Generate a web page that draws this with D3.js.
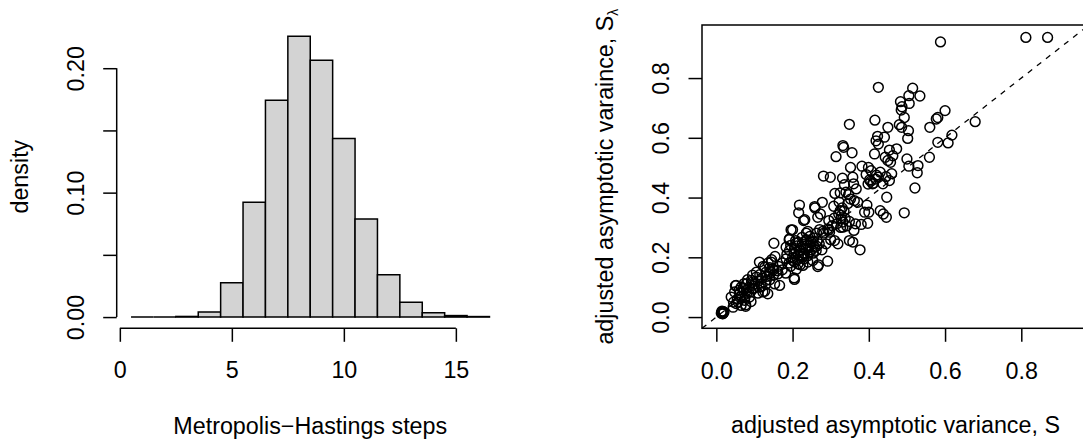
<!DOCTYPE html>
<html lang="en">
  <head>
    <meta charset="utf-8">
    <title>MH steps and adjusted asymptotic variance</title>
    <script type="text/javascript" src="https://d3js.org/d3.v7.min.js"></script>
    <style>
      body { margin: 0; background: #fff; }
      svg { display: block; }
      text { font-family: 'Liberation Sans', Arial, Helvetica, sans-serif; font-size: 23.3px; fill: #000; }
    </style>
  </head>
  <body>
    <div id="viz"></div>
    <script type="text/javascript">

    // histogram: unit bins from 0.5 to 16.5
    var histBreaks = [0.5, 1.5, 2.5, 3.5, 4.5, 5.5, 6.5, 7.5, 8.5, 9.5, 10.5, 11.5, 12.5, 13.5, 14.5, 15.5, 16.5];
    var histDensity = [0, 0, 0.0005, 0.004, 0.0275, 0.0922, 0.1743, 0.2257, 0.2064, 0.1436, 0.0789, 0.034, 0.012, 0.0035, 0.0012, 0.0004];
    var histXTicks = [0, 5, 10, 15];
    var histYTicks = [0, 0.05, 0.10, 0.15, 0.20];
    var histYLabels = ["0.00", "", "0.10", "", "0.20"];

    // scatter: adjusted asymptotic variance S vs S_lambda
    var adjS = [
      0.812, 0.869, 0.588, 0.425, 0.515, 0.505, 0.534, 0.483, 0.487, 0.485,
      0.506, 0.493, 0.416, 0.600, 0.581, 0.577, 0.560, 0.679, 0.349, 0.450,
      0.480, 0.486, 0.618, 0.608, 0.581, 0.423, 0.419, 0.441, 0.425, 0.504,
      0.502, 0.332, 0.334, 0.356, 0.314, 0.415, 0.443, 0.454, 0.473, 0.463,
      0.450, 0.457, 0.500, 0.529, 0.527, 0.505, 0.559, 0.382, 0.399, 0.406,
      0.393, 0.402, 0.410, 0.425, 0.437, 0.454, 0.447, 0.281, 0.299, 0.331,
      0.352, 0.358, 0.360, 0.336, 0.367, 0.521, 0.311, 0.325, 0.340, 0.347,
      0.362, 0.371, 0.395, 0.389, 0.400, 0.430, 0.438, 0.446, 0.493, 0.218,
      0.216, 0.229, 0.258, 0.278, 0.273, 0.266, 0.308, 0.325, 0.327, 0.316,
      0.332, 0.304, 0.321, 0.295, 0.292, 0.297, 0.349, 0.361, 0.365, 0.380,
      0.397, 0.196, 0.240, 0.271, 0.279, 0.192, 0.208, 0.225, 0.236, 0.249,
      0.258, 0.192, 0.205, 0.220, 0.231, 0.244, 0.262, 0.151, 0.183, 0.211,
      0.288, 0.310, 0.319, 0.349, 0.358, 0.377, 0.266, 0.292, 0.183, 0.201,
      0.214, 0.227, 0.240, 0.253, 0.205, 0.113, 0.127, 0.144, 0.148, 0.162,
      0.140, 0.131, 0.153, 0.166, 0.092, 0.105, 0.079, 0.096, 0.113, 0.122,
      0.135, 0.052, 0.065, 0.079, 0.048, 0.061, 0.074, 0.087, 0.039, 0.052,
      0.065, 0.077, 0.016, 0.017, 0.013, 0.019, 0.015, 0.044, 0.057, 0.050,
      0.073, 0.082, 0.093, 0.062, 0.077, 0.091, 0.109, 0.100, 0.118, 0.127,
      0.132, 0.114, 0.123, 0.136, 0.145, 0.154, 0.163, 0.141, 0.150, 0.173,
      0.182, 0.191, 0.173, 0.204, 0.200, 0.191, 0.209, 0.204, 0.218, 0.227,
      0.236, 0.245, 0.254, 0.241, 0.227, 0.213, 0.200, 0.254, 0.263, 0.268,
      0.277, 0.263, 0.236, 0.227, 0.232, 0.259, 0.282, 0.295, 0.300, 0.309,
      0.014, 0.018, 0.016, 0.020, 0.330, 0.335, 0.328, 0.338, 0.332, 0.342,
      0.326, 0.345, 0.352, 0.322, 0.405, 0.412, 0.418, 0.398, 0.420, 0.430,
      0.445, 0.460, 0.195, 0.205, 0.215, 0.225, 0.235, 0.245, 0.250, 0.240,
      0.230, 0.215, 0.205, 0.220, 0.255, 0.265, 0.270, 0.185, 0.195, 0.210,
      0.060, 0.070, 0.080, 0.090, 0.100, 0.110, 0.120, 0.130, 0.140, 0.150,
      0.160, 0.105, 0.095, 0.085, 0.065, 0.055, 0.045, 0.075, 0.130, 0.140
    ];
    var adjSLambda = [
      0.936, 0.936, 0.921, 0.769, 0.766, 0.741, 0.740, 0.721, 0.704, 0.693,
      0.715, 0.668, 0.659, 0.691, 0.668, 0.663, 0.635, 0.654, 0.645, 0.635,
      0.644, 0.635, 0.609, 0.583, 0.585, 0.605, 0.590, 0.602, 0.579, 0.624,
      0.598, 0.574, 0.568, 0.550, 0.537, 0.546, 0.535, 0.559, 0.563, 0.540,
      0.524, 0.518, 0.529, 0.507, 0.483, 0.505, 0.535, 0.505, 0.501, 0.490,
      0.477, 0.459, 0.446, 0.468, 0.446, 0.457, 0.401, 0.472, 0.468, 0.465,
      0.501, 0.468, 0.446, 0.443, 0.429, 0.432, 0.414, 0.416, 0.418, 0.410,
      0.390, 0.384, 0.375, 0.351, 0.351, 0.356, 0.345, 0.334, 0.349, 0.375,
      0.349, 0.323, 0.370, 0.384, 0.345, 0.334, 0.371, 0.356, 0.329, 0.312,
      0.301, 0.306, 0.345, 0.323, 0.295, 0.284, 0.320, 0.290, 0.312, 0.310,
      0.314, 0.292, 0.287, 0.293, 0.287, 0.262, 0.256, 0.267, 0.256, 0.251,
      0.234, 0.223, 0.212, 0.223, 0.212, 0.217, 0.223, 0.247, 0.234, 0.238,
      0.245, 0.256, 0.245, 0.256, 0.251, 0.225, 0.169, 0.187, 0.195, 0.189,
      0.178, 0.173, 0.184, 0.189, 0.126, 0.184, 0.167, 0.184, 0.162, 0.145,
      0.145, 0.123, 0.111, 0.106, 0.123, 0.134, 0.111, 0.095, 0.100, 0.084,
      0.078, 0.106, 0.100, 0.089, 0.084, 0.067, 0.056, 0.067, 0.067, 0.045,
      0.039, 0.036, 0.017, 0.011, 0.013, 0.018, 0.020, 0.033, 0.050, 0.105,
      0.112, 0.125, 0.116, 0.080, 0.041, 0.052, 0.080, 0.097, 0.103, 0.086,
      0.136, 0.142, 0.170, 0.181, 0.192, 0.203, 0.170, 0.153, 0.158, 0.158,
      0.147, 0.181, 0.181, 0.131, 0.292, 0.259, 0.248, 0.214, 0.225, 0.237,
      0.259, 0.270, 0.253, 0.231, 0.203, 0.192, 0.198, 0.214, 0.237, 0.175,
      0.225, 0.281, 0.281, 0.214, 0.326, 0.365, 0.281, 0.292, 0.259, 0.331,
      0.016, 0.014, 0.012, 0.016, 0.365, 0.355, 0.340, 0.330, 0.318, 0.305,
      0.300, 0.380, 0.395, 0.385, 0.455, 0.448, 0.462, 0.445, 0.475, 0.485,
      0.470, 0.480, 0.240, 0.230, 0.250, 0.245, 0.230, 0.240, 0.225, 0.205,
      0.195, 0.205, 0.185, 0.175, 0.265, 0.255, 0.245, 0.210, 0.170, 0.160,
      0.090, 0.095, 0.080, 0.085, 0.110, 0.120, 0.130, 0.150, 0.165, 0.140,
      0.155, 0.150, 0.140, 0.100, 0.070, 0.060, 0.050, 0.065, 0.110, 0.125
    ];
    var scatTicks = [0, 0.2, 0.4, 0.6, 0.8];
    var scatLim = [0, 0.94];

    var W = 1083, H = 443;
    var plotTop = 25, plotBottom = 328.3;
    var lw = 1.5, tick = 13.5;

    var svg = d3.select("#viz").append("svg")
      .attr("width", W)
      .attr("height", H);

    // R style 4% padding on the limits
    function pad(lo, hi) {
      var d = (hi - lo) * 0.04;
      return [lo - d, hi + d];
    }

    function styleAxis(g, first, last, horizontal) {
      g.attr("font-size", null).attr("font-family", null);
      g.selectAll("line").attr("stroke", "#000").attr("stroke-width", lw);
      g.select(".domain").attr("stroke", "#000").attr("stroke-width", lw)
        .attr("d", horizontal ? "M" + first + ",0H" + last : "M0," + first + "V" + last);
    }

    /* left panel: histogram */
    var hx = d3.scaleLinear()
      .domain(pad(histBreaks[0], histBreaks[histBreaks.length - 1]))
      .range([116.7, 503.8]);
    var hy = d3.scaleLinear()
      .domain(pad(0, d3.max(histDensity)))
      .range([plotBottom, plotTop]);

    var left = svg.append("g");

    left.selectAll(".bar")
      .data(histDensity)
      .enter()
      .append("path")
      .attr("class", "bar")
      .attr("d", function(d, i) {
        var x0 = hx(histBreaks[i]), x1 = hx(histBreaks[i + 1]);
        return "M" + x0 + "," + hy(0) + "V" + hy(d) + "H" + x1 + "V" + hy(0) + "Z";
      })
      .attr("fill", "#d3d3d3")
      .attr("stroke", "#000")
      .attr("stroke-width", lw);

    var hxAxis = left.append("g")
      .attr("transform", "translate(0," + plotBottom + ")")
      .call(d3.axisBottom(hx).tickValues(histXTicks).tickSize(tick).tickSizeOuter(0));
    styleAxis(hxAxis, hx(histXTicks[0]), hx(histXTicks[histXTicks.length - 1]), true);
    hxAxis.selectAll("text").attr("y", 50).attr("dy", null);

    var hyAxis = left.append("g")
      .attr("transform", "translate(" + hx.range()[0] + ",0)")
      .call(d3.axisLeft(hy).tickValues(histYTicks).tickSize(tick).tickSizeOuter(0)
        .tickFormat(function(d, i) { return histYLabels[i]; }));
    styleAxis(hyAxis, hy(histYTicks[0]), hy(histYTicks[histYTicks.length - 1]), false);
    hyAxis.selectAll("text")
      .attr("x", null).attr("dy", null)
      .attr("text-anchor", "middle")
      .attr("transform", "translate(-33,0) rotate(-90)");

    left.append("text")
      .attr("text-anchor", "middle")
      .attr("x", (hx.range()[0] + hx.range()[1]) / 2)
      .attr("y", plotBottom + 106)
      .text("Metropolis\u2212Hastings steps");

    left.append("text")
      .attr("text-anchor", "middle")
      .attr("transform", "translate(" + (hx.range()[0] - 89) + "," + ((plotTop + plotBottom) / 2) + ") rotate(-90)")
      .text("density");

    /* right panel: scatter */
    var sx = d3.scaleLinear().domain(pad(scatLim[0], scatLim[1])).range([702, 1089]);
    var sy = d3.scaleLinear().domain(pad(scatLim[0], scatLim[1])).range([plotBottom, plotTop]);

    var right = svg.append("g");

    right.append("line")
      .attr("x1", sx(sx.domain()[0])).attr("y1", sy(sx.domain()[0]))
      .attr("x2", sx(sx.domain()[1])).attr("y2", sy(sx.domain()[1]))
      .attr("stroke", "#000")
      .attr("stroke-width", 1.3)
      .attr("stroke-dasharray", "5.5,6");

    right.selectAll(".pt")
      .data(adjS)
      .enter()
      .append("circle")
      .attr("class", "pt")
      .attr("cx", function(d) { return sx(d); })
      .attr("cy", function(d, i) { return sy(adjSLambda[i]); })
      .attr("r", 4.9)
      .attr("fill", "none")
      .attr("stroke", "#000")
      .attr("stroke-width", lw);

    right.append("rect")
      .attr("x", sx.range()[0]).attr("y", plotTop)
      .attr("width", sx.range()[1] - sx.range()[0]).attr("height", plotBottom - plotTop)
      .attr("fill", "none")
      .attr("stroke", "#000")
      .attr("stroke-width", lw);

    var sxAxis = right.append("g")
      .attr("transform", "translate(0," + plotBottom + ")")
      .call(d3.axisBottom(sx).tickValues(scatTicks).tickSize(tick).tickSizeOuter(0)
        .tickFormat(d3.format(".1f")));
    styleAxis(sxAxis, sx(scatTicks[0]), sx(scatTicks[scatTicks.length - 1]), true);
    sxAxis.select(".domain").remove();
    sxAxis.selectAll("text").attr("y", 51).attr("dy", null);

    var syAxis = right.append("g")
      .attr("transform", "translate(" + sx.range()[0] + ",0)")
      .call(d3.axisLeft(sy).tickValues(scatTicks).tickSize(tick).tickSizeOuter(0)
        .tickFormat(d3.format(".1f")));
    styleAxis(syAxis, sy(scatTicks[0]), sy(scatTicks[scatTicks.length - 1]), false);
    syAxis.select(".domain").remove();
    syAxis.selectAll("text")
      .attr("x", null).attr("dy", null)
      .attr("text-anchor", "middle")
      .attr("transform", "translate(-33,0) rotate(-90)");

    right.append("text")
      .attr("text-anchor", "middle")
      .attr("x", (sx.range()[0] + sx.range()[1]) / 2)
      .attr("y", plotBottom + 105)
      .text("adjusted asymptotic variance, S");

    var ylab = right.append("text")
      .attr("text-anchor", "middle")
      .attr("transform", "translate(" + (sx.range()[0] - 89) + "," + ((plotTop + plotBottom) / 2) + ") rotate(-90)");
    ylab.append("tspan").text("adjusted asymptotic varaince, S");
    ylab.append("tspan")
      .attr("dy", 5)
      .attr("font-size", "14px")
      .text("\u03bb");

    </script>
  </body>
</html>
